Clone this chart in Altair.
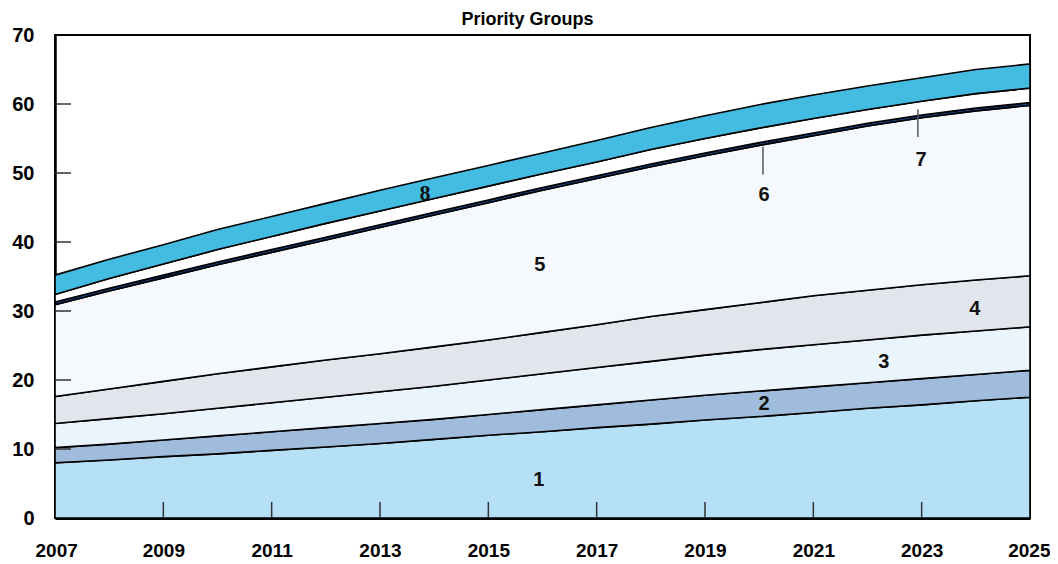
import altair as alt
import pandas as pd

years = list(range(2007, 2026))
groups = ["1", "2", "3", "4", "5", "6", "7", "8"]

g1 = [8.0, 8.4, 8.9, 9.3, 9.8, 10.3, 10.8, 11.4, 12.0, 12.5, 13.1, 13.6, 14.2, 14.7, 15.3, 15.9, 16.4, 17.0, 17.5]
g2 = [2.2, 2.3, 2.4, 2.6, 2.7, 2.8, 2.9, 2.9, 3.0, 3.2, 3.3, 3.5, 3.6, 3.7, 3.7, 3.7, 3.8, 3.8, 3.9]
g3 = [3.5, 3.7, 3.8, 4.0, 4.2, 4.4, 4.6, 4.8, 5.0, 5.2, 5.4, 5.6, 5.8, 6.0, 6.1, 6.2, 6.3, 6.3, 6.3]
g4 = [3.9, 4.3, 4.7, 5.0, 5.2, 5.4, 5.5, 5.7, 5.8, 6.0, 6.2, 6.5, 6.6, 6.8, 7.1, 7.2, 7.3, 7.4, 7.4]
g5 = [13.3, 14.2, 15.0, 15.8, 16.6, 17.4, 18.3, 19.1, 19.9, 20.6, 21.2, 21.7, 22.3, 22.8, 23.2, 23.8, 24.2, 24.5, 24.7]
g6 = [0.4, 0.4, 0.4, 0.4, 0.4, 0.4, 0.4, 0.4, 0.4, 0.4, 0.4, 0.4, 0.4, 0.4, 0.4, 0.4, 0.4, 0.4, 0.4]
g7 = [1.1, 1.4, 1.6, 1.8, 1.9, 2.0, 2.0, 2.0, 2.0, 2.0, 2.0, 2.1, 2.1, 2.1, 2.1, 2.0, 2.0, 2.1, 2.1]
g8 = [2.8, 2.8, 2.8, 2.9, 2.9, 2.9, 3.0, 3.0, 3.0, 3.0, 3.1, 3.2, 3.3, 3.4, 3.4, 3.4, 3.4, 3.5, 3.5]
series = [g1, g2, g3, g4, g5, g6, g7, g8]

colors = ["#b6e0f6", "#a0bcdc", "#eaf4fd", "#e1e5ec", "#f5f8fd", "#12407f", "#ffffff", "#44bbe0"]

x_label_years = [2007, 2009, 2011, 2013, 2015, 2017, 2019, 2021, 2023, 2025]
x_tick_years = [2009, 2011, 2013, 2015, 2017, 2019, 2021, 2023]
y_label_values = [0, 10, 20, 30, 40, 50, 60, 70]
y_tick_values = [10, 20, 30, 40, 50, 60]

label_text = ["1", "2", "3", "4", "5", "6", "7"]
label_year = [2015.93, 2020.09, 2022.3, 2023.98, 2015.95, 2020.09, 2022.99]
label_value = [5.5, 16.5, 22.6, 30.3, 36.7, 46.8, 51.9]
serif_text = ["8"]
serif_year = [2013.83]
serif_value = [47.1]

leader_year = [2020.07, 2022.93]
leader_top = [53.8, 59.2]
leader_bottom = [49.8, 55.2]

W, H = 975, 483

rows = []
for gi, (g, vals) in enumerate(zip(groups, series)):
    for yr, v in zip(years, vals):
        rows.append({"year": yr, "group": g, "order": gi, "value": v})
df = pd.DataFrame(rows)

xs = alt.Scale(domain=[2007, 2025], nice=False, zero=False)
ys = alt.Scale(domain=[0, 70], nice=False)

FONT = "Liberation Sans"

area = alt.Chart(df).mark_area(stroke="black", strokeWidth=1.6, interpolate="linear").encode(
    x=alt.X("year:Q", scale=xs, title=None,
            axis=alt.Axis(values=x_label_years, format="d", ticks=False, grid=False,
                          labelFont=FONT, labelFontSize=19, labelFontWeight="bold",
                          labelColor="black", labelPadding=23, domainColor="black",
                          domainWidth=3, labelFlush=True, labelFlushOffset=20)),
    y=alt.Y("value:Q", stack="zero", scale=ys, title=None,
            axis=alt.Axis(values=y_label_values, ticks=False, grid=False,
                          labelFont=FONT, labelFontSize=20, labelFontWeight="bold",
                          labelColor="black", labelPadding=21, domainColor="black",
                          domainWidth=2.5)),
    color=alt.Color("group:N", scale=alt.Scale(domain=groups, range=colors), legend=None),
    order=alt.Order("order:Q"),
)

xt = alt.Chart(pd.DataFrame({"year": x_tick_years})).mark_rule(color="#333333", strokeWidth=1.5).encode(
    x=alt.X("year:Q", scale=xs), y=alt.value(H), y2=alt.value(H - 16)
)
yt = alt.Chart(pd.DataFrame({"v": y_tick_values})).mark_rule(color="#333333", strokeWidth=1.5).encode(
    y=alt.Y("v:Q", scale=ys), x=alt.value(0), x2=alt.value(16)
)

leaders = alt.Chart(pd.DataFrame({"year": leader_year, "top": leader_top, "bottom": leader_bottom})).mark_rule(
    color="#555555", strokeWidth=1.5).encode(
    x=alt.X("year:Q", scale=xs), y=alt.Y("top:Q", scale=ys), y2="bottom:Q"
)

labels = alt.Chart(pd.DataFrame({"t": label_text, "year": label_year, "v": label_value})).mark_text(
    font=FONT, fontSize=20, fontWeight="bold", color="#111111", baseline="middle", align="center").encode(
    x=alt.X("year:Q", scale=xs), y=alt.Y("v:Q", scale=ys), text="t:N"
)
slabels = alt.Chart(pd.DataFrame({"t": serif_text, "year": serif_year, "v": serif_value})).mark_text(
    font="Liberation Serif", fontSize=22, fontWeight="bold", color="#111111", baseline="middle",
    align="center").encode(
    x=alt.X("year:Q", scale=xs), y=alt.Y("v:Q", scale=ys), text="t:N"
)

chart = alt.layer(area, xt, yt, leaders, labels, slabels).properties(
    width=W, height=H,
    title=alt.TitleParams("Priority Groups", font=FONT, fontSize=18, fontWeight="bold",
                          color="black", anchor="middle", offset=-4, dx=-15),
    autosize=alt.AutoSizeParams(type="none"),
    padding={"left": 47, "top": 27, "right": 20, "bottom": 44},
).configure_view(stroke="black", strokeWidth=2)

chart.save("out.html", embed_options={"renderer": "svg", "actions": False})
